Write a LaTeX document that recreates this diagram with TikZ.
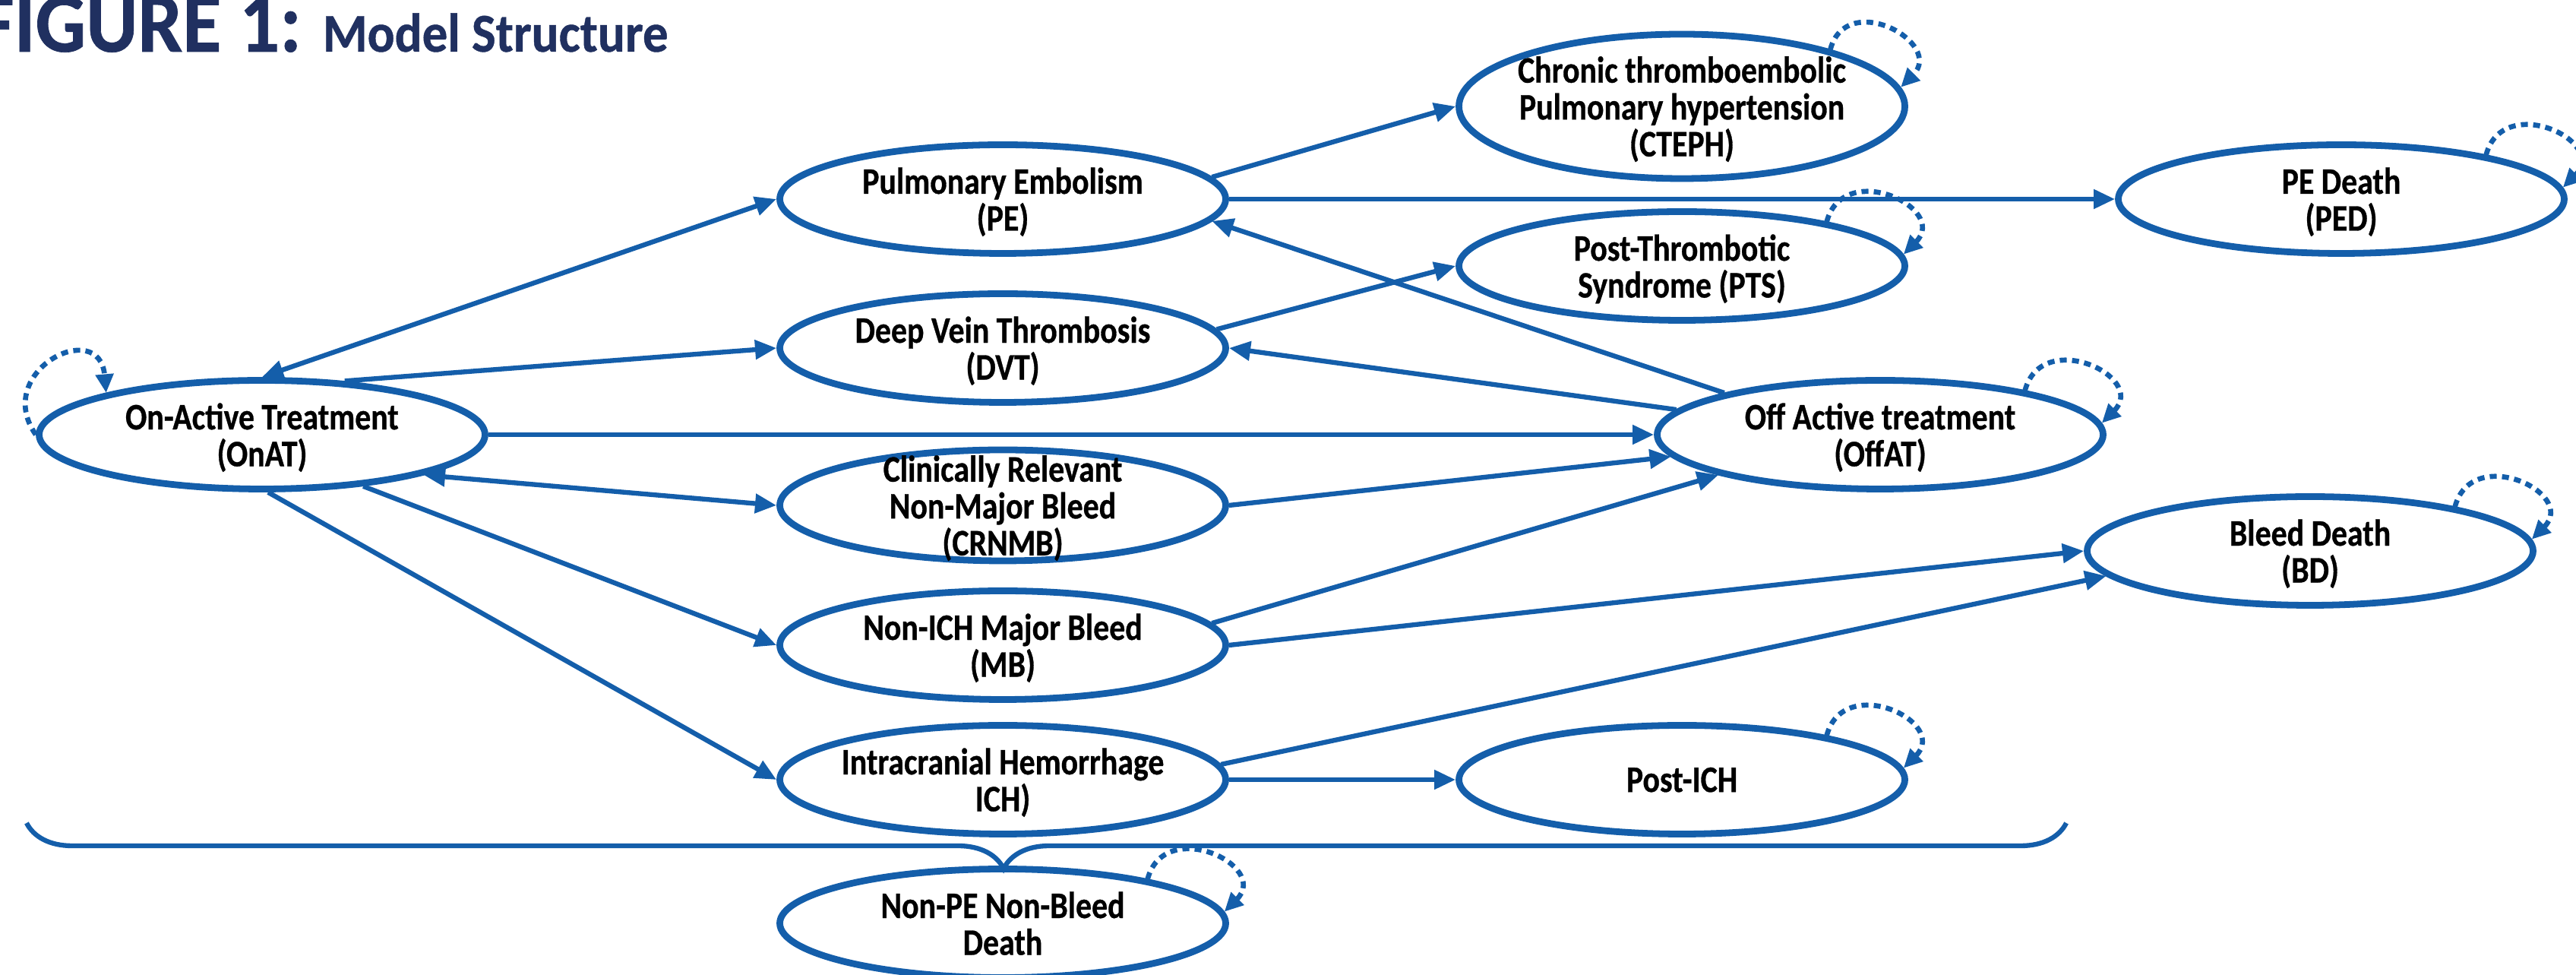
\documentclass[tikz,border=0pt]{standalone}
\definecolor{azultitulo}{RGB}{32,48,96}
\definecolor{azulmedio}{RGB}{20,94,170}
\usepackage{fontspec}
\setmainfont{Carlito}[FakeStretch=0.85,BoldFeatures={FakeBold=0.6}]
\newfontfamily\fuentetitulo{Carlito}[FakeStretch=0.93,BoldFeatures={FakeBold=0.6}]
\usetikzlibrary{arrows.meta,shapes.geometric,decorations.pathreplacing}

\begin{document}
\begin{tikzpicture}[
    estado/.style={ellipse,draw=azulmedio,line width=2.5pt,fill=white,
      minimum width=5.87cm,minimum height=1.43cm,
      inner xsep=-0.15cm,inner ysep=-0.25cm,align=center,text depth=-0.8mm,
      font=\bfseries\fontsize{14}{13.8}\selectfont},
    flecha/.style={-{Triangle[length=8pt,width=7pt]},azulmedio,line width=1.8pt},
    dobleflecha/.style={flecha,{Triangle[length=8pt,width=7pt]}-{Triangle[length=8pt,width=7pt]}},
    bucle/.style={-{Triangle[length=7pt,width=6.5pt]},azulmedio,line width=1.9pt,
      dash pattern=on 2.6pt off 2pt}]
    \useasboundingbox (0,0) rectangle (33.91,-12.83);
    \node[anchor=base west,inner sep=0pt,text=azultitulo,
          font=\fuentetitulo\bfseries\fontsize{32}{33}\selectfont]
      (titulo) at (-0.3,-0.68)
        {FIGURE 1:\hspace{0.25em}{\fontsize{20.5}{21}\selectfont Model Structure}};
    \node[estado] (onat) at (3.45,-5.72) {On-Active Treatment\\(OnAT)};
    \node[estado] (pe) at (13.20,-2.62) {Pulmonary Embolism\\(PE)};
    \node[estado] (dvt) at (13.20,-4.58) {Deep Vein Thrombosis\\(DVT)};
    \node[estado,minimum height=1.46cm] (crnmb) at (13.20,-6.65)
      {Clinically Relevant\\Non-Major Bleed\\(CRNMB)};
    \node[estado] (mb) at (13.20,-8.49) {Non-ICH Major Bleed\\(MB)};
    \node[estado] (ich) at (13.20,-10.26) {Intracranial Hemorrhage\\ICH)};
    \node[estado,minimum height=1.9cm] (cteph) at (22.14,-1.40)
      {Chronic thromboembolic\\Pulmonary hypertension\\(CTEPH)};
    \node[estado] (pts) at (22.14,-3.50) {Post-Thrombotic\\Syndrome (PTS)};
    \node[estado] (ped) at (30.82,-2.62) {PE Death\\(PED)};
    \node[estado] (offat) at (24.75,-5.72) {Off Active treatment\\(OffAT)};
    \node[estado] (bd) at (30.41,-7.25) {Bleed Death\\(BD)};
    \node[estado] (postich) at (22.14,-10.26) {Post-ICH};
    \node[estado] (nonpe) at (13.20,-12.15) {Non-PE Non-Bleed\\Death};
    \draw[dobleflecha] (onat.north) -- (pe.west);
    \draw[flecha] (onat.33) -- (dvt.west);
    \draw[flecha] (onat.east) -- (offat.west);
    \draw[dobleflecha] (onat.-14) -- (crnmb.west);
    \draw[flecha] (onat.-27) -- (mb.west);
    \draw[flecha] (onat.-84) -- (ich.west);
    \draw[flecha] (pe.6) -- (cteph.west);
    \draw[flecha] (pe.east) -- (ped.west);
    \draw[flecha] (offat.165) -- (pe.-6);
    \draw[flecha] (dvt.5) -- (pts.west);
    \draw[flecha] (offat.173) -- (dvt.east);
    \draw[flecha] (crnmb.east) -- (offat.186);
    \draw[flecha] (mb.6) -- (offat.194);
    \draw[flecha] (mb.east) -- (bd.west);
    \draw[flecha] (ich.4.5) -- (bd.187);
    \draw[flecha] (ich.east) -- (postich.west);
    \draw[bucle] (onat.west) to[out=125,in=95,looseness=2.4] (onat.165);
    \draw[bucle] (cteph.21) to[out=75,in=45,looseness=2] (cteph.5);
    \draw[bucle] (pts.17) to[out=75,in=45,looseness=2] (pts.3);
    \draw[bucle] (ped.17) to[out=75,in=45,looseness=2] (ped.3);
    \draw[bucle] (offat.17) to[out=75,in=45,looseness=2] (offat.3);
    \draw[bucle] (bd.17) to[out=75,in=45,looseness=2] (bd.3);
    \draw[bucle] (postich.17) to[out=75,in=45,looseness=2] (postich.3);
    \draw[bucle] (nonpe.17) to[out=75,in=45,looseness=2] (nonpe.3);
    \coordinate (llaveizq) at (0.35,-10.83);
    \coordinate (llaveder) at (27.20,-10.83);
    \draw[azulmedio,line width=1.8pt,decorate,
          decoration={brace,mirror,amplitude=0.6cm,aspect=0.479}]
      (llaveizq) -- (llaveder);
  \end{tikzpicture}
\end{document}
